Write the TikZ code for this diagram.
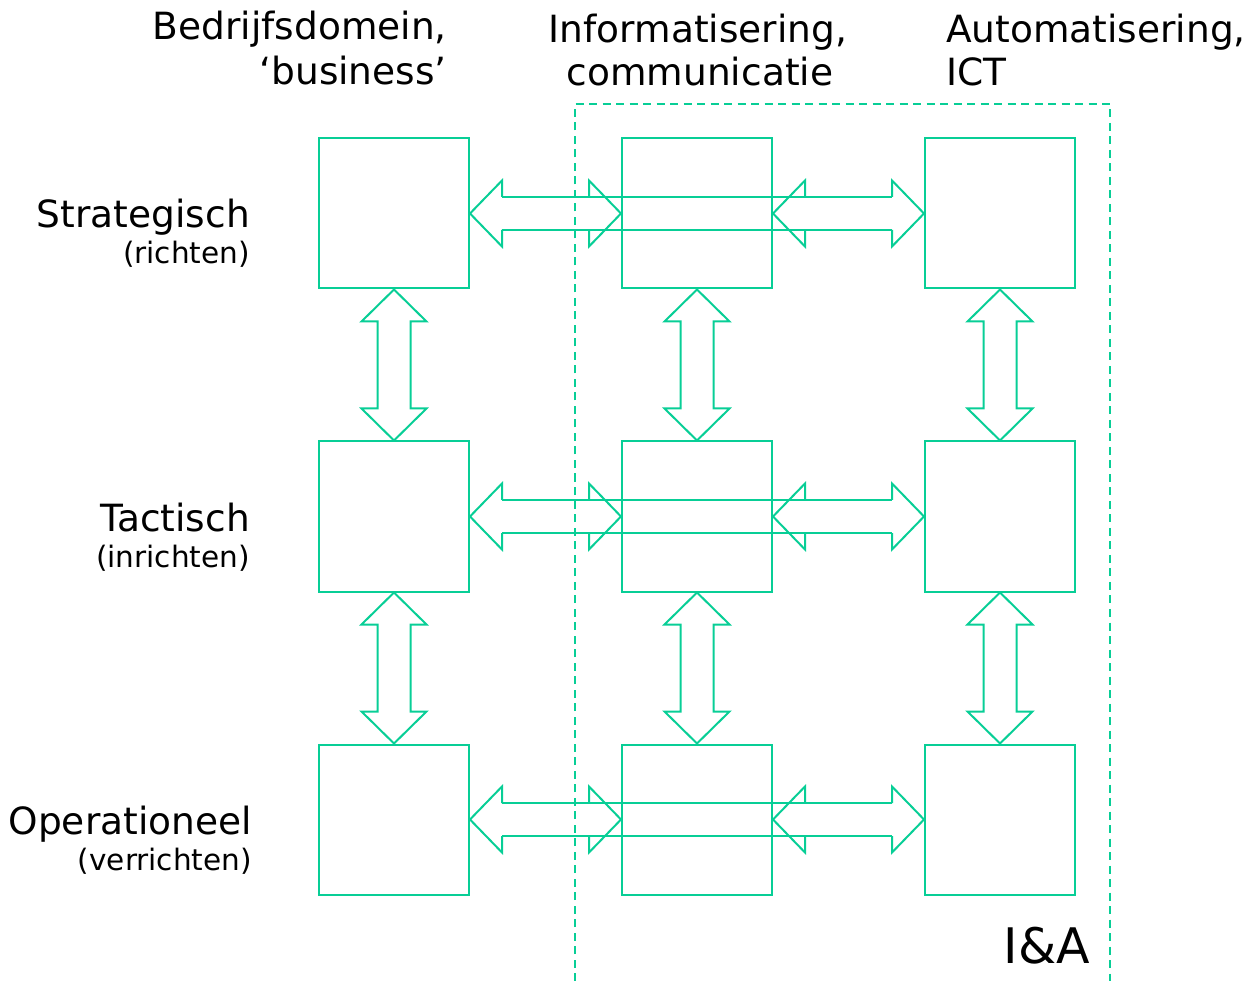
\documentclass[tikz,border=0pt]{standalone}
\usepackage{fontspec}
\setmainfont{DejaVu Sans}
\usetikzlibrary{calc}
\definecolor{ig}{RGB}{8,206,150}
\tikzset{
  box/.style={draw=ig, line width=2pt, minimum width=150pt, minimum height=150pt, inner sep=0pt, fill=none},
  arr/.style={draw=ig, line width=2pt, line join=miter},
  dashline/.style={draw=ig, line width=2pt, dash pattern=on 8pt off 5.5pt},
  head/.style={font=\fontsize{37.5}{44}\selectfont, inner sep=0pt},
  lab/.style={font=\fontsize{37.5}{44}\selectfont, inner sep=0pt, anchor=base east},
  sub/.style={font=\fontsize{29.5}{34}\selectfont, inner sep=0pt, anchor=base east}
}
\newcommand\hhead[2]{%
  \draw[arr] ($(#1)+(#2,-16.5)$) -- ($(#1)+(#2,-33)$) -- (#1) -- ($(#1)+(#2,33)$) -- ($(#1)+(#2,16.5)$);}
\newcommand\vdarrow[2]{%
  \draw[arr] (#1) -- ($(#1)+(-32.5,32)$) -- ($(#1)+(-16.5,32)$) -- ($(#2)+(-16.5,-32)$) -- ($(#2)+(-32.5,-32)$) -- (#2) -- ($(#2)+(32.5,-32)$) -- ($(#2)+(16.5,-32)$) -- ($(#1)+(16.5,32)$) -- ($(#1)+(32.5,32)$) -- cycle;}
\begin{document}
\begin{tikzpicture}[x=1pt,y=-1pt]
\useasboundingbox (0,0) rectangle (1251,981);
% boxes
\foreach \c/\x in {1/394,2/697,3/1000}{
  \foreach \r/\y in {1/213.5,2/516.5,3/819.5}{
    \node[box] (b\c\r) at (\x,\y) {};
  }
}
% dashed frame
\coordinate (d1) at (575,981);
\coordinate (d2) at (575,104);
\coordinate (d3) at (1110,104);
\coordinate (d4) at (1110,981);
\draw[dashline] (d1) -- (d2) -- (d3) -- (d4);
% horizontal arrows
\foreach \r in {1,2,3}{
  \draw[arr] ($(b1\r.east)+(32,-16.5)$) -- ($(b3\r.west)+(-32,-16.5)$);
  \draw[arr] ($(b1\r.east)+(32,16.5)$) -- ($(b3\r.west)+(-32,16.5)$);
  \hhead{b1\r.east}{32}
  \hhead{b2\r.west}{-32}
  \hhead{b2\r.east}{32}
  \hhead{b3\r.west}{-32}
}
% vertical arrows
\foreach \c in {1,2,3}{
  \vdarrow{b\c1.south}{b\c2.north}
  \vdarrow{b\c2.south}{b\c3.north}
}
% column headings
\node[head, anchor=base east] (h1a) at (447,40) {Bedrijfsdomein,};
\node[head, anchor=base east] (h1b) at (447,85) {`business’};
\node[head, anchor=base] (h2a) at (698,43) {Informatisering,};
\node[head, anchor=base] (h2b) at (700,86) {communicatie};
\node[head, anchor=base west] (h3a) at (946,43) {Automatisering,};
\node[head, anchor=base west] (h3b) at (946,86) {ICT};
% row labels
\node[lab] (r1a) at (250,228) {Strategisch};
\node[sub] (r1b) at (250,264) {(richten)};
\node[lab] (r2a) at (250,531) {Tactisch};
\node[sub] (r2b) at (250,567) {(inrichten)};
\node[lab] (r3a) at (252,834) {Operationeel};
\node[sub] (r3b) at (252,870) {(verrichten)};
% I&A
\node[font=\fontsize{49}{56}\selectfont, inner sep=0pt, anchor=base east] (ia) at (1090,963) {I\&A};
\end{tikzpicture}
\end{document}
